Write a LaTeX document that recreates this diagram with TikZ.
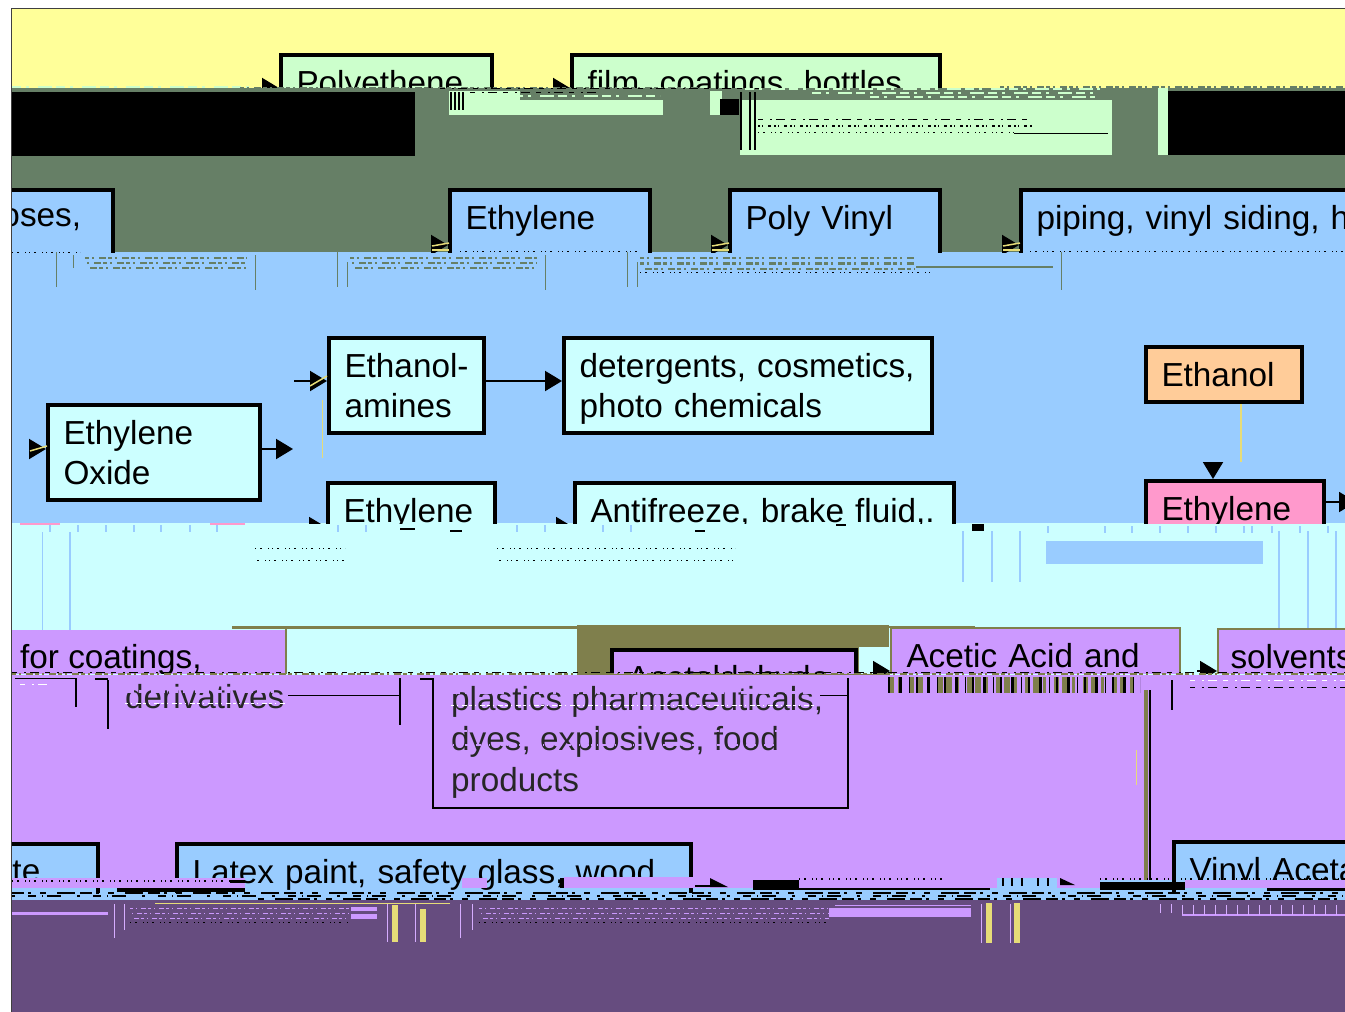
\documentclass[tikz,border=0pt]{standalone}
\usepackage{fontspec}
\setmainfont{Liberation Sans}
\usetikzlibrary{arrows.meta,calc}
\definecolor{cyel}{HTML}{FFFF99}
\definecolor{cgrey}{HTML}{667F66}
\definecolor{cgreen}{HTML}{CCFFCC}
\definecolor{cblue}{HTML}{99CCFF}
\definecolor{ccyan}{HTML}{CCFFFF}
\definecolor{cpurp}{HTML}{CC99FF}
\definecolor{cdark}{HTML}{664C7F}
\definecolor{colive}{HTML}{7F7F4C}
\definecolor{cpink}{HTML}{FF99CC}
\definecolor{corange}{HTML}{FFCC99}
\definecolor{cbar}{HTML}{E6DC78}
\tikzset{
  boxnode/.style={draw=black,line width=4pt,inner ysep=0pt,inner xsep=15.5pt,align=left,anchor=north west,
    font=\fontsize{33.3}{40.5}\selectfont},
  plaintext/.style={inner sep=0pt,anchor=base west,text=black,font=\fontsize{33.3}{40.5}\selectfont},
  head/.style={-{Triangle[length=17pt,width=20pt]},line width=2pt,black},
  glint/.style={cbar,line width=1.5pt},
  noisek/.style={black,line width=1.5pt,dash pattern=on 5pt off 7pt on 2pt off 4pt on 9pt off 6pt},
  noisek2/.style={black,line width=2pt,dash pattern=on 12pt off 4pt on 3pt off 9pt on 6pt off 11pt on 18pt off 5pt},
  noisek3/.style={black,line width=2.5pt,dash pattern=on 3pt off 13pt on 8pt off 6pt on 1pt off 4pt on 14pt off 16pt},
  noisel/.style={black,line width=1pt,dash pattern=on 1pt off 4pt on 2pt off 6pt on 1pt off 3pt},
  noiseg/.style={cgrey,line width=1.5pt,dash pattern=on 4pt off 3pt on 2pt off 5pt on 7pt off 2pt},
  noisep/.style={cpurp,line width=1.5pt,dash pattern=on 3pt off 3pt on 1pt off 4pt on 5pt off 2pt},
  noisey/.style={cgreen,line width=1.5pt,dash pattern=on 9pt off 5pt on 3pt off 9pt on 14pt off 4pt},
  barcode/.style={line width=16pt,dash pattern=on 6pt off 4pt on 3pt off 8pt on 5pt off 3pt},
  tick/.style={cblue,line width=1.5pt},
  ltick/.style={cpurp!80!white,line width=1pt},
}
% name, x1, y1, x2, y2 (outer edges), fill, text
\newcommand{\bx}[7]{%
  \pgfmathsetmacro{\bw}{#4-#2-3}\pgfmathsetmacro{\bh}{#5-#3-4}\pgfmathsetmacro{\bt}{#4-#2-34}%
  \pgfmathsetmacro{\bxl}{#2-1}%
  \node[boxnode,fill=#6,minimum width=\bw pt,minimum height=\bh pt,text width=\bt pt] (#1) at (\bxl,#3) {#7};}
% coordinate name, x, y, target node
\newcommand{\hd}[4]{\coordinate (#1) at (#2,#3); \draw[head] (#1) -- (#1 -| #4.west);}
\newcommand{\rct}[5]{\fill[#1] (#2,#3) rectangle (#4,#5);}
\newcommand{\blank}{\mbox{}}
\begin{document}
\begin{tikzpicture}[x=1pt,y=-1pt]
\useasboundingbox (0,0) rectangle (1345,1012);
\fill[white] (0,0) rectangle (1345,1012);
% ---------- bands
\rct{cyel}{12}{9}{1345}{88}
\rct{cgrey}{12}{88}{1345}{252}
\rct{cblue}{12}{252}{1345}{523}
\rct{ccyan}{12}{523}{1345}{675}
\rct{cpurp}{12}{675}{1345}{880}
\rct{cdark}{12}{900}{1345}{1012}
\rct{cblue}{12}{880}{1345}{900}
% ---------- top band
\begin{scope}
\clip (12,9) rectangle (1345,87);
\bx{poly}{280}{53}{494}{153}{cgreen}{Polyethene\\\blank}
\bx{film}{571}{53}{942}{153}{cgreen}{film, coatings, bottles,\\\blank}
\coordinate (topin) at (262,88);
\draw[head] (topin) -- (topin -| poly.west);
\coordinate (mid1) at (553,88);
\draw[head] (mid1) -- (mid1 -| film.west);
\end{scope}
\draw[noisey] (12,87) -- (250,87);
\draw[noiseg] (240,88) -- (700,88);
\draw[noisek,line width=1pt] (440,88) -- (760,88);
\draw[noisey] (745,89) -- (1100,89);
\draw[noiseg] (1000,87) -- (1345,87);
% ---------- grey band pieces
\rct{black}{12}{92}{415}{156}
\rct{cgreen}{449}{91}{663}{115}
\rct{cgrey}{520}{91}{663}{100}
\draw[noisek,line width=1pt] (470,92) -- (600,92);
\draw[noisey,line width=1.5pt] (470,96) -- (660,96);
\foreach \xx in {451,455,459,463}{\draw[black,line width=1.2pt] (\xx,92) -- (\xx,110);}
\rct{cgreen}{710}{91}{722}{115}
\rct{black}{720}{99}{739}{115}
\rct{cgreen}{740}{100}{1112}{155}
\rct{cgrey}{812}{92}{1095}{100}
\rct{cgreen}{1158}{88}{1168}{155}
\rct{black}{1168}{91}{1345}{155}
\foreach \xx in {741,750,755}{\draw[black,line width=1.5pt] (\xx,92) -- (\xx,150);}
\draw[noisek,line width=1pt] (758,119) -- (1030,119);
\draw[noisek,line width=1.2pt,dash pattern=on 2pt off 2pt on 1pt off 5pt on 3pt off 3pt] (758,126) -- (1033,126);
\draw[noisel] (758,132) -- (1015,132);
\draw[black,line width=1pt] (1014,133) -- (1108,133);
\draw[noisey] (812,93) -- (1095,93);
\draw[noisey] (870,97) -- (1095,97);
% ---------- second row boxes
\begin{scope}
\clip (12,88) rectangle (1345,252);
\bx{ose}{-100}{188}{115}{288}{cblue}{\hspace*{85pt}oses,\\\blank}
\bx{ethd}{449}{188}{652}{288}{cblue}{Ethylene\\\blank}
\bx{pvc}{729}{188}{942}{288}{cblue}{Poly Vinyl\\\blank}
\bx{pipe}{1020}{188}{1500}{288}{cblue}{piping, vinyl siding, hoses\\\blank}
\hd{a1}{432}{245}{ethd}
\hd{a2}{712}{245}{pvc}
\hd{a3}{1003}{245}{pipe}
\foreach \xx in {432,712,1003}{\draw[glint] (\xx,246) -- (\xx+17,243); \draw[glint] (\xx,250) -- (\xx+17,250);}
\end{scope}
% ---------- blue band
\draw[noiseg] (85,258) -- (247,258);
\draw[noiseg,dash phase=5pt] (85,263) -- (247,263);
\draw[noiseg,dash phase=9pt] (85,268) -- (247,268);
\draw[noiseg] (350,258) -- (537,258);
\draw[noiseg,dash phase=5pt] (350,263) -- (537,263);
\draw[noiseg,dash phase=9pt] (350,268) -- (537,268);
\draw[noiseg] (640,258) -- (915,258);
\draw[noiseg,line width=3pt] (640,263) -- (915,263);
\draw[noiseg,dash phase=9pt] (640,269) -- (915,269);
\draw[noisel] (640,272) -- (930,272);
\draw[cgrey,line width=2pt] (916,267) -- (1053,267);
\foreach \xx/\ya/\yb in {56/252/287,73/255/268,255/255/290,337/252/287,347/262/287,545/255/290,627/252/287,637/262/287,1061/252/290}
  {\draw[cgrey,line width=1pt] (\xx,\ya) -- (\xx,\yb);}
\draw[noisel] (12,252) -- (80,252);
\draw[noisel] (460,251) -- (640,251);
\draw[noisel] (1030,251) -- (1345,251);
\begin{scope}
\clip (12,252) rectangle (1345,523);
\bx{oxide}{47}{403}{262}{502}{ccyan}{Ethylene\\Oxide}
\bx{amine}{328}{336}{486}{435}{ccyan}{\mbox{Ethanol-}\\amines}
\bx{deter}{563}{336}{934}{435}{ccyan}{detergents, cosmetics,\\\smash{photo chemicals}}
\bx{ethanol}{1145}{345}{1304}{404}{corange}{Ethanol}
\bx{ethyl}{1145}{479}{1326}{579}{cpink}{Ethylene\\\blank}
\bx{glycol}{327}{481}{497}{581}{ccyan}{Ethylene\\\blank}
\bx{anti}{574}{481}{956}{581}{ccyan}{Antifreeze, brake fluid,.\\\blank}
\coordinate (am) at (510,381);
\draw[head] (amine.east |- am) -- (am -| deter.west);
\coordinate (oxr) at (293,449);
\draw[head] (oxide.east |- oxr) -- (oxr);
\hd{oxl}{30}{449}{oxide}
\draw[glint] (30,451) -- (47,446);
\coordinate (aml) at (294,381);
\draw[head] (aml) -- (aml -| amine.west);
\draw[glint] (310,386) -- (327,376);
\draw[cbar,line width=1pt] (322,400) -- (322,458);
\coordinate (arrtop) at (1213,462);
\draw[head] (arrtop) -- (arrtop |- ethyl.north);
\draw[cbar,line width=1.2pt] (1241,404) -- (1241,462);
\coordinate (ethr) at (1356,502);
\draw[head] (ethyl.east |- ethr) -- (ethr);
\hd{gl}{310}{527}{glycol}
\hd{anl}{557}{527}{anti}
\end{scope}
% ---------- cyan band
\rct{cpink}{20}{523}{60}{525}
\rct{cpink}{210}{523}{245}{525}
\foreach \xx in {50,78,106,134,161,190,217,338,366,517,545,603,631}{\draw[tick] (\xx,525) -- (\xx,532);}
\foreach \xx in {42.5,70}{\draw[tick] (\xx,532) -- (\xx,630);}
\foreach \xx in {963,992,1020}{\draw[tick] (\xx,531) -- (\xx,582);}
\foreach \xx in {1279,1308,1336}{\draw[tick] (\xx,531) -- (\xx,630);}
\foreach \xx in {1048,1252,1105,1132,1160,1188,1216,1244,1272,1300,1328}{\draw[tick] (\xx,526) -- (\xx,533);}
\rct{cblue}{1046}{541}{1263}{564}
\rct{black}{972}{524}{984}{531}
\draw[noisel] (255,548) -- (345,548);
\draw[noisel,dash phase=3pt] (255,560) -- (345,560);
\draw[noisel] (497,548) -- (735,548);
\draw[noisel,dash phase=3pt] (497,560) -- (735,560);
\rct{black}{400}{528}{415}{530}
\rct{black}{450}{530}{462}{532}
\rct{black}{695}{530}{705}{532}
\rct{black}{836}{524}{846}{526}
% ---------- olive and lower-right top boxes
\rct{colive}{232}{626}{577}{629}
\rct{colive}{577}{625}{889}{675}
\rct{colive}{889}{626}{975}{628}
\begin{scope}
\clip (12,625) rectangle (1345,673);
\rct{ccyan}{859}{647}{890}{675}
\bx{acetald}{611}{648}{858}{748}{cpurp}{Acetaldehyde\\\blank}
\rct{cpurp}{12}{630}{286}{678}
\draw[colive,line width=2pt] (286,628) -- (286,678);
\node[plaintext] (coat) at (20,668) {for coatings,};
\begin{scope}
\tikzset{boxnode/.append style={line width=2pt,draw=colive}}
\bx{acetic}{891}{627}{1183}{727}{cpurp}{Acetic Acid and\\\blank}
\bx{solv}{1218}{628}{1500}{728}{cpurp}{\hspace*{-3pt}solvents\\\blank}
\end{scope}
\hd{b1}{873}{671}{acetic}
\hd{b2}{1197}{671}{solv}
\end{scope}
\draw[noiseg,colive] (12,674) -- (1345,674);
\draw[noisek,line width=1pt] (12,672.5) -- (1345,672.5);
% ---------- purple lower band
\begin{scope}
\clip (12,677) rectangle (1345,880);
\node[plaintext,text=black!85] (deriv) at (125,708) {derivatives};
\node[plaintext,text=black!85] (plast) at (451,710) {plastics pharmaceuticals,};
\node[plaintext,text=black!85] (dyes) at (451,750) {dyes, explosives, food};
\node[plaintext,text=black!85] (prod) at (451,791) {products};
\draw[black,line width=1.5pt] (433,678) -- (433,808) -- (848,808) -- (848,678);
\draw[black,line width=1pt] (820,695) -- (848,695);
\draw[black,line width=1.5pt] (108,680) -- (108,729);
\draw[black,line width=1.5pt] (400,678) -- (400,725);
\draw[black,line width=1pt] (288,695) -- (400,695);
\draw[black,line width=1.5pt] (76,678) -- (76,707);
\draw[black,line width=1pt] (15,678) -- (76,678);
\draw[black,line width=1.5pt] (1172,680) -- (1172,710);
\draw[black,line width=1.5pt] (95,679) -- (108,679);
\draw[black,line width=1.5pt] (420,679) -- (433,679);
\draw[colive,line width=4pt] (1146,690) -- (1146,880);
\draw[black,line width=1.5pt] (1150,690) -- (1150,880);
\draw[cbar,line width=1pt] (1136,750) -- (1136,785);
\draw[colive,barcode] (888,685) -- (1140,685);
\draw[black,line width=16pt,dash pattern=on 2pt off 9pt on 3pt off 7pt on 1pt off 6pt] (888,685) -- (1140,685);
\draw[noisey,cpurp,line width=3pt] (125,691) -- (290,691);
\draw[noisey,cpurp,line width=3pt] (451,692) -- (822,692);
\draw[noisep,line width=2pt] (451,731) -- (780,731);
\draw[noisep,line width=2pt,dash phase=4pt] (451,745) -- (780,745);
\draw[noisep,white,line width=1pt] (125,703) -- (285,703);
\draw[noisep,white,line width=1pt] (451,705) -- (815,705);
\draw[noisek,white,line width=1pt] (1190,680) -- (1345,680);
\draw[noisek,line width=1pt] (1190,687) -- (1345,687);
\draw[noisek,white,line width=1pt] (20,684) -- (50,684);
\end{scope}
% ---------- bottom row boxes
\begin{scope}
\clip (12,800) rectangle (1345,892);
\bx{te}{-100}{842}{100}{942}{cblue}{\hspace*{96pt}te\\\blank}
\bx{latex}{176}{842}{693}{942}{cblue}{Latex paint, safety glass, wood\\\blank}
\bx{vinyl}{1173}{840}{1500}{940}{cblue}{Vinyl Acetate\\\blank}
\end{scope}
% ---------- noise strip
\rct{cpurp}{12}{878}{245}{888}
\rct{black}{117}{888}{245}{892}
\rct{black}{230}{880}{245}{883}
\rct{cpurp}{462}{878}{487}{888}
\rct{cpurp}{564}{877}{1000}{888}
\rct{black}{560}{878}{564}{888}
\coordinate (c1) at (710,886);
\draw[black,line width=1.5pt] (695,886) -- (c1);
\fill[black] (710,878) -- (728,887) -- (710,887) -- cycle;
\rct{black}{753}{880}{799}{890}
\rct{black}{799}{888}{990}{890}
\rct{cblue}{997}{878}{1057}{890}
\foreach \xx in {1003,1012,1022,1038,1048}{\draw[black,line width=2pt] (\xx,878) -- (\xx,886);}
\rct{cpurp}{1057}{878}{1100}{888}
\fill[black] (1060,878) -- (1075,885) -- (1060,885) -- cycle;
\rct{black}{1100}{882}{1185}{890}
\rct{cpurp}{1185}{880}{1345}{888}
\rct{black}{1267}{888}{1345}{891}
\draw[noisel,line width=1.5pt] (799,879) -- (945,879);
\draw[noisel,line width=1.5pt] (1100,879) -- (1345,879);
\draw[noisel,line width=1.5pt] (12,881) -- (245,881);
\draw[noisek2] (12,893) -- (1345,893);
\draw[noisek3] (12,896) -- (1345,896);
\draw[noisek2,dash phase=20pt] (250,899) -- (1345,899);
\rct{cdark}{12}{900.5}{1345}{903}
% ---------- dark band
\rct{cpurp}{12}{912}{108}{915}
\foreach \xx/\yb in {114/938,124.5/930,387/942,415/942,460/938,472/930,981/943,1010/943,1160/913,1171/913}
  {\draw[ltick] (\xx,904) -- (\xx,\yb);}
\rct{cbar}{392}{905}{398}{942}
\rct{cbar}{420}{909}{426}{942}
\rct{cbar}{986}{903}{992}{943}
\rct{cbar}{1014}{903}{1020}{943}
\rct{cpurp}{829}{908}{971}{917}
\rct{cpurp}{351}{907}{377}{911}
\rct{cpurp}{351}{914}{377}{919}
\draw[cpurp,line width=1pt] (835,905) -- (971,905);
\draw[cpurp,line width=1.5pt] (1182,915) -- (1345,915);
\foreach \xx in {1182,1193,...,1345}{\draw[ltick] (\xx,905) -- (\xx,915);}
\foreach \yy/\ph in {908/0,913/4,918/7}{
  \draw[noisep,line width=1pt,dash phase=\ph pt] (130,\yy) -- (350,\yy);
  \draw[noisep,line width=1pt,dash phase=\ph pt] (479,\yy) -- (829,\yy);
}
\draw[noisel] (130,922) -- (350,922);
\draw[noisel] (479,922) -- (830,922);
\draw[cbar,line width=1pt] (155,903) -- (450,903);
% ---------- page border
\draw[black!75,line width=1pt] (11.5,1012) -- (11.5,8.5) -- (1345,8.5);
\end{tikzpicture}
\end{document}
